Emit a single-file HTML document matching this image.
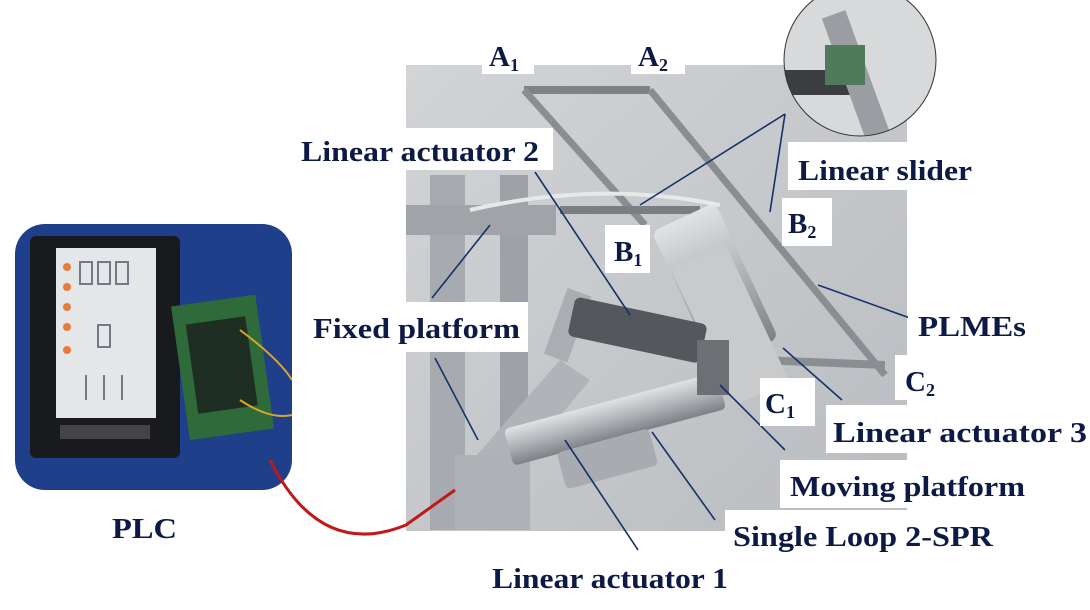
<!DOCTYPE html>
<html><head><meta charset="utf-8"><style>
html,body{margin:0;padding:0;background:#fff;width:1090px;height:610px;overflow:hidden}
svg{display:block}
text{font-family:"Liberation Serif",serif;font-weight:bold;fill:#0d1a45;font-size:29px}
</style></head><body>
<svg width="1090" height="610" viewBox="0 0 1090 610">
<defs>
<linearGradient id="bg" x1="0" y1="0" x2="1" y2="1"><stop offset="0" stop-color="#d2d4d6"/><stop offset="1" stop-color="#b9bcc0"/></linearGradient>
<linearGradient id="cyl" x1="0" y1="0" x2="0" y2="1"><stop offset="0" stop-color="#e0e2e4"/><stop offset="0.5" stop-color="#b0b3b7"/><stop offset="1" stop-color="#7d8085"/></linearGradient>
<clipPath id="pc"><rect x="15" y="224" width="277" height="266" rx="30"/></clipPath>
<clipPath id="cc"><circle cx="860" cy="60" r="76"/></clipPath>
</defs>
<rect x="406" y="65" width="501" height="466" fill="url(#bg)"/>
<rect x="430" y="175" width="35" height="355" fill="#a7abb0"/>
<rect x="500" y="175" width="28" height="355" fill="#9ea2a7"/>
<rect x="406" y="205" width="150" height="30" fill="#a0a4a8"/>
<polygon points="455,480 560,360 590,380 490,500" fill="#b0b3b7"/>
<rect x="455" y="455" width="75" height="75" fill="#aeb1b5"/>
<rect x="555" y="290" width="25" height="70" fill="#aaadb1" transform="rotate(20 567 325)"/>
<polyline points="524,90 650,90" stroke="#7e8186" stroke-width="8" fill="none"/>
<line x1="524" y1="90" x2="645" y2="225" stroke="#8a8d91" stroke-width="7"/>
<line x1="650" y1="90" x2="885" y2="375" stroke="#8a8d91" stroke-width="7"/>
<line x1="760" y1="360" x2="885" y2="365" stroke="#8a8d91" stroke-width="8"/>
<path d="M470,210 Q600,180 720,205" stroke="#e8e8e8" stroke-width="4" fill="none"/>
<line x1="560" y1="210" x2="700" y2="210" stroke="#7a7d82" stroke-width="8"/>
<rect x="680" y="210" width="70" height="150" rx="8" fill="url(#cyl)" transform="rotate(-25 715 285)"/>
<rect x="700" y="250" width="60" height="150" rx="6" fill="#c8cacc" transform="rotate(-25 730 325)"/>
<rect x="570" y="310" width="135" height="40" rx="6" fill="#54575c" transform="rotate(12 637 330)"/>
<rect x="505" y="400" width="220" height="38" rx="5" fill="url(#cyl)" transform="rotate(-15 615 419)"/>
<rect x="560" y="440" width="95" height="38" rx="5" fill="#a8abaf" transform="rotate(-15 607 459)"/>
<rect x="697" y="340" width="32" height="55" fill="#6c6f73"/>
<circle cx="860" cy="60" r="76" fill="#d8d9da"/>
<g clip-path="url(#cc)">
<rect x="780" y="70" width="70" height="25" fill="#3b3d40"/>
<rect x="845" y="10" width="25" height="140" fill="#9a9da1" transform="rotate(-20 858 80)"/>
<rect x="825" y="45" width="40" height="40" fill="#4f7a5c"/>
</g>
<circle cx="860" cy="60" r="76" fill="none" stroke="#333" stroke-width="1"/>
<g clip-path="url(#pc)">
<rect x="15" y="224" width="277" height="266" fill="#1f3f8a"/>
<rect x="30" y="236" width="150" height="222" rx="6" fill="#181a1e"/>
<rect x="56" y="248" width="100" height="170" fill="#e4e6e8"/>
<g fill="#e87a3a"><circle cx="67" cy="267" r="4"/><circle cx="67" cy="287" r="4"/><circle cx="67" cy="307" r="4"/><circle cx="67" cy="327" r="4"/><circle cx="67" cy="350" r="4"/></g>
<g stroke="#778" stroke-width="2" fill="none"><rect x="80" y="262" width="12" height="22"/><rect x="98" y="262" width="12" height="22"/><rect x="116" y="262" width="12" height="22"/><rect x="98" y="325" width="12" height="22"/><line x1="86" y1="375" x2="86" y2="400"/><line x1="104" y1="375" x2="104" y2="400"/><line x1="122" y1="375" x2="122" y2="400"/></g>
<rect x="60" y="425" width="90" height="14" fill="#444"/>
<rect x="180" y="300" width="85" height="135" fill="#2f6b3a" transform="rotate(-8 222 367)"/>
<rect x="192" y="320" width="60" height="90" fill="#1e2e22" transform="rotate(-8 222 367)"/>
<path d="M240,330 Q280,360 292,380 M240,400 Q270,420 292,415" stroke="#d9a52a" stroke-width="2" fill="none"/>
</g>
<path d="M270,460 Q320,560 406,525 L455,490" stroke="#c0191a" stroke-width="3" fill="none"/>
<g stroke="#163268" stroke-width="1.6" fill="none">
<line x1="535" y1="172" x2="630" y2="315"/>
<line x1="785" y1="114" x2="640" y2="205"/>
<line x1="785" y1="114" x2="770" y2="212"/>
<line x1="490" y1="225" x2="432" y2="298"/>
<line x1="435" y1="358" x2="478" y2="440"/>
<line x1="818" y1="285" x2="910" y2="318"/>
<line x1="783" y1="348" x2="842" y2="400"/>
<line x1="720" y1="385" x2="785" y2="450"/>
<line x1="652" y1="432" x2="715" y2="520"/>
<line x1="565" y1="440" x2="638" y2="550"/>
</g>
<g fill="#fff">
<rect x="482" y="40" width="52" height="34"/><rect x="631" y="40" width="54" height="34"/>
<rect x="298" y="128" width="255" height="42"/>
<rect x="788" y="142" width="190" height="48"/>
<rect x="605" y="225" width="45" height="48"/><rect x="782" y="198" width="50" height="48"/>
<rect x="308" y="302" width="220" height="50"/>
<rect x="908" y="305" width="125" height="42"/>
<rect x="760" y="378" width="55" height="48"/><rect x="895" y="355" width="45" height="45"/>
<rect x="826" y="405" width="264" height="48"/>
<rect x="780" y="460" width="250" height="48"/>
<rect x="725" y="510" width="275" height="45"/>
<rect x="487" y="555" width="245" height="45"/>
</g>
<text x="489" y="66">A<tspan font-size="18" dy="5">1</tspan></text>
<text x="638" y="66">A<tspan font-size="18" dy="5">2</tspan></text>
<text x="301" y="161" textLength="238" lengthAdjust="spacingAndGlyphs">Linear actuator 2</text>
<text x="798" y="180" textLength="174" lengthAdjust="spacingAndGlyphs">Linear slider</text>
<text x="614" y="261">B<tspan font-size="18" dy="5">1</tspan></text>
<text x="788" y="233">B<tspan font-size="18" dy="5">2</tspan></text>
<text x="313" y="338" textLength="207" lengthAdjust="spacingAndGlyphs">Fixed platform</text>
<text x="918" y="336" textLength="108" lengthAdjust="spacingAndGlyphs">PLMEs</text>
<text x="765" y="413">C<tspan font-size="18" dy="5">1</tspan></text>
<text x="905" y="391">C<tspan font-size="18" dy="5">2</tspan></text>
<text x="833" y="442" textLength="254" lengthAdjust="spacingAndGlyphs">Linear actuator 3</text>
<text x="790" y="496" textLength="235" lengthAdjust="spacingAndGlyphs">Moving platform</text>
<text x="733" y="546" textLength="260" lengthAdjust="spacingAndGlyphs">Single Loop 2-SPR</text>
<text x="492" y="588" textLength="236" lengthAdjust="spacingAndGlyphs">Linear actuator 1</text>
<text x="112" y="538" textLength="65" lengthAdjust="spacingAndGlyphs">PLC</text>
</svg>
</body></html>
